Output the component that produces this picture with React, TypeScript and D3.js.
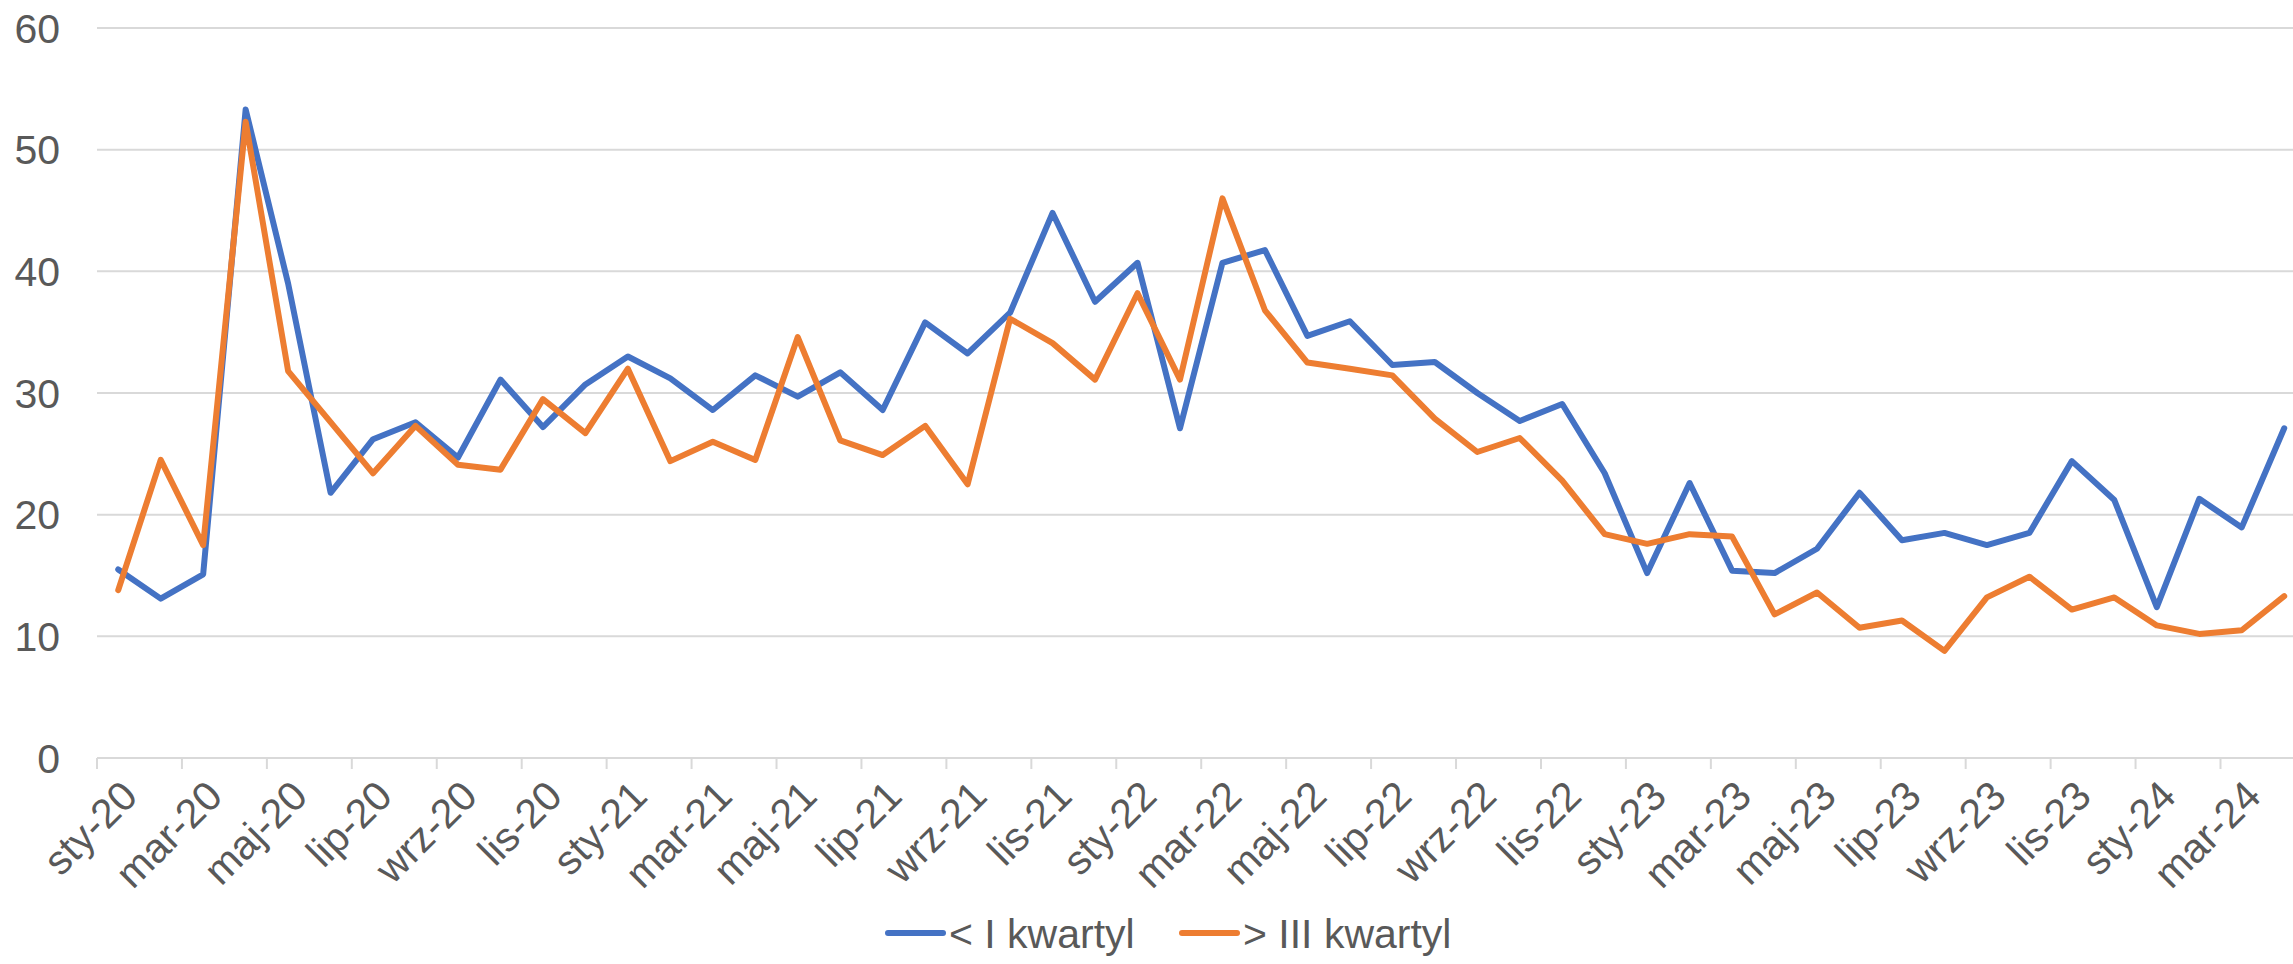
import React from "react";
import * as d3 from "d3";

const categories = [
  "sty-20","lut-20","mar-20","kwi-20","maj-20","cze-20","lip-20","sie-20","wrz-20","paź-20","lis-20","gru-20",
  "sty-21","lut-21","mar-21","kwi-21","maj-21","cze-21","lip-21","sie-21","wrz-21","paź-21","lis-21","gru-21",
  "sty-22","lut-22","mar-22","kwi-22","maj-22","cze-22","lip-22","sie-22","wrz-22","paź-22","lis-22","gru-22",
  "sty-23","lut-23","mar-23","kwi-23","maj-23","cze-23","lip-23","sie-23","wrz-23","paź-23","lis-23","gru-23",
  "sty-24","lut-24","mar-24","kwi-24",
];

const belowQ1 = [
  15.5, 13.1, 15.1, 53.3, 39.0, 21.8, 26.2, 27.6, 24.7, 31.1, 27.2, 30.7,
  33.0, 31.2, 28.6, 31.45, 29.7, 31.7, 28.6, 35.8, 33.25, 36.6, 44.8, 37.5,
  40.7, 27.1, 40.7, 41.75, 34.7, 35.9, 32.3, 32.55, 30.0, 27.7, 29.1, 23.4,
  15.2, 22.6, 15.4, 15.2, 17.2, 21.8, 17.9, 18.5, 17.5, 18.5, 24.4, 21.2,
  12.4, 21.3, 18.95, 27.1,
];

const aboveQ3 = [
  13.8, 24.5, 17.5, 52.3, 31.8, 27.6, 23.4, 27.3, 24.1, 23.7, 29.5, 26.7,
  32.0, 24.4, 26.0, 24.5, 34.6, 26.1, 24.9, 27.3, 22.5, 36.1, 34.1, 31.1,
  38.2, 31.1, 46.0, 36.8, 32.5, 32.0, 31.45, 27.9, 25.15, 26.3, 22.8, 18.4,
  17.6, 18.4, 18.2, 11.8, 13.6, 10.7, 11.3, 8.8, 13.2, 14.9, 12.2, 13.2,
  10.9, 10.2, 10.5, 13.3,
];

const yTicks = [0, 10, 20, 30, 40, 50, 60];

const seriesNames = ["< I kwartyl", "> III kwartyl"];
const seriesColors = ["#4472C4", "#ED7D31"];

const W = 2293;
const H = 964;
const FONT = "'Liberation Sans', Arial, sans-serif";
const TEXT = "#595959";

export default function App() {
  const left = 97;
  const bandW = 42.47;
  const right = left + bandW * categories.length;
  const x = d3.scaleBand<string>().domain(categories).range([left, right]).paddingInner(0).paddingOuter(0);
  const y = d3.scaleLinear().domain([0, 60]).range([758, 28]);
  const cx = (c: string) => (x(c) as number) + x.bandwidth() / 2;

  const line = d3
    .line<number>()
    .x((_, i) => cx(categories[i]))
    .y((d) => y(d));

  const tickCats = categories.filter((_, i) => i % 2 === 0);
  const y0 = y(0);

  return (
    <svg
      width={W}
      height={H}
      style={{ position: "absolute", left: 0, top: 0, background: "#fff" }}
      fontFamily={FONT}
    >
      <rect x={0} y={0} width={W} height={H} fill="#fff" />
      {yTicks.map((t) => (
        <g key={t}>
          {t > 0 && (
            <line x1={left} x2={right} y1={y(t)} y2={y(t)} stroke="#D9D9D9" strokeWidth={2} />
          )}
          <text x={60} y={y(t)} dy="0.36em" textAnchor="end" fontSize={41} fill={TEXT}>
            {t}
          </text>
        </g>
      ))}
      <line x1={left} x2={right} y1={y0} y2={y0} stroke="#D9D9D9" strokeWidth={2} />
      {tickCats.map((c) => (
        <line key={"t" + c} x1={x(c)} x2={x(c)} y1={y0} y2={y0 + 11} stroke="#D9D9D9" strokeWidth={2} />
      ))}
      {tickCats.map((c) => {
        const px = cx(c) + 11;
        const py = y0 + 30;
        return (
          <text
            key={"l" + c}
            transform={`translate(${px},${py}) rotate(-45)`}
            textAnchor="end"
            dy="0.36em"
            fontSize={41}
            fill={TEXT}
          >
            {c}
          </text>
        );
      })}
      {[belowQ1, aboveQ3].map((s, k) => (
        <path
          key={k}
          d={line(s) || ""}
          fill="none"
          stroke={seriesColors[k]}
          strokeWidth={6}
          strokeLinejoin="round"
          strokeLinecap="round"
        />
      ))}
      {[0, 1].map((k) => {
        const lx = k === 0 ? 888 : 1182;
        return (
          <g key={"lg" + k}>
            <line x1={lx} x2={lx + 55} y1={933} y2={933} stroke={seriesColors[k]} strokeWidth={6} strokeLinecap="round" />
            <text x={lx + 61} y={933} dy="0.36em" fontSize={41} fill={TEXT}>
              {seriesNames[k]}
            </text>
          </g>
        );
      })}
    </svg>
  );
}
